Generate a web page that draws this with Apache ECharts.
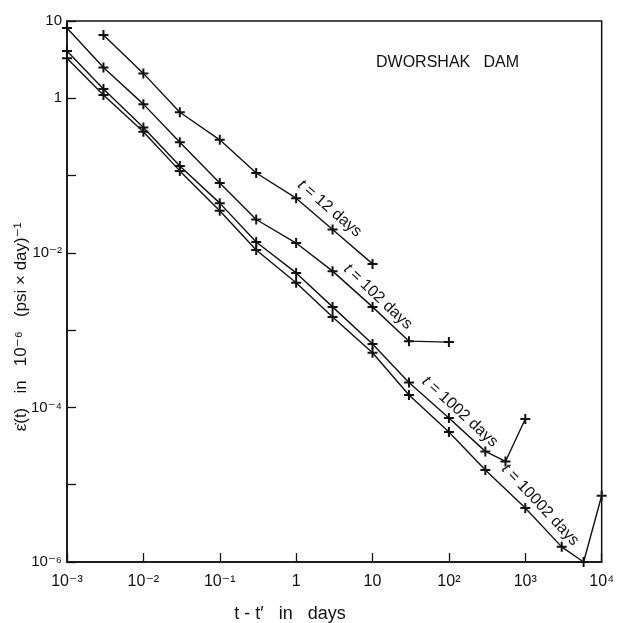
<!DOCTYPE html>
<html>
<head>
<meta charset="utf-8">
<script src="https://cdn.jsdelivr.net/npm/echarts@6/dist/echarts.min.js"></script>
<style>
  html, body { margin: 0; padding: 0; background: #fff; }
  #chart { width: 617px; height: 623px; }
</style>
</head>
<body>
<div id="chart"></div>
<script>
// t - t' in days, creep rate per curve
const x12 = [0.003, 0.01, 0.03, 0.1, 0.3, 1, 3, 10];
const y12 = [6.6, 2.1, 0.66, 0.29, 0.108, 0.051, 0.020, 0.0072];

const x102 = [0.001, 0.003, 0.01, 0.03, 0.1, 0.3, 1, 3, 10, 30, 100];
const y102 = [8.1, 2.5, 0.84, 0.27, 0.080, 0.027, 0.0134, 0.0058, 0.0020, 0.00072, 0.00070];

const x1002 = [0.001, 0.003, 0.01, 0.03, 0.1, 0.3, 1, 3, 10, 30, 100, 300, 550, 1000];
const y1002 = [4.1, 1.32, 0.42, 0.133, 0.044, 0.0138, 0.0055, 0.0020, 0.00066, 0.00021, 7.3e-5, 2.7e-5, 2.0e-5, 7.1e-5];

const x10002 = [0.001, 0.003, 0.01, 0.03, 0.1, 0.3, 1, 3, 10, 30, 100, 300, 1000, 3000, 5800, 10000];
const y10002 = [3.3, 1.1, 0.37, 0.115, 0.035, 0.0109, 0.0041, 0.00148, 0.00051, 0.000145, 4.8e-5, 1.55e-5, 5.0e-6, 1.57e-6, 1.0e-6, 7.2e-6];

const curveNames = ['t = 12 days', 't = 102 days', 't = 1002 days', 't = 10002 days'];

const FONT = '"Liberation Sans", "DejaVu Sans", sans-serif';
const SUP = { '-': '⁻', '0': '⁰', '1': '¹', '2': '²', '3': '³', '4': '⁴', '5': '⁵', '6': '⁶' };

function powLabel(v) {
  const e = Math.round(Math.log10(v));
  if (e === 0) return '1';
  if (e === 1) return '10';
  return '10' + String(e).split('').map(c => SUP[c]).join('');
}

const plus = 'path://M4,0h2v4h4v2h-4v4h-2v-4h-4v-2h4z';

function curve(name, xs, ys) {
  return {
    name: name,
    type: 'line',
    data: xs.map((x, i) => [x, ys[i]]),
    symbol: plus,
    symbolSize: 10,
    clip: false,
    itemStyle: { color: '#111' },
    lineStyle: { color: '#111', width: 1.4 },
    emphasis: { disabled: true }
  };
}

const chart = echarts.init(document.getElementById('chart'));

chart.setOption({
  animation: false,
  backgroundColor: '#fff',
  title: {
    text: 'DWORSHAK   DAM',
    left: 371,
    top: 50,
    textStyle: { fontFamily: FONT, fontSize: 16, fontWeight: 'normal', color: '#111' }
  },
  grid: {
    left: 67,
    right: 14,
    top: 21,
    bottom: 61,
    show: true,
    borderColor: '#111',
    borderWidth: 1.5
  },
  xAxis: {
    type: 'log',
    logBase: 10,
    min: 0.001,
    max: 10000,
    splitNumber: 7,
    axisLine: { lineStyle: { color: '#111', width: 1.5 } },
    axisTick: { inside: true, length: 9, lineStyle: { color: '#111', width: 1.3 } },
    minorTick: { show: false },
    splitLine: { show: false },
    axisLabel: {
      margin: 12,
      fontFamily: FONT,
      fontSize: 16,
      color: '#111',
      formatter: powLabel
    }
  },
  yAxis: {
    type: 'log',
    logBase: 10,
    min: 1e-6,
    max: 10,
    splitNumber: 7,
    axisLine: { lineStyle: { color: '#111', width: 1.5 } },
    axisTick: { inside: true, length: 9, lineStyle: { color: '#111', width: 1.3 } },
    splitLine: { show: false },
    axisLabel: {
      margin: 5,
      fontFamily: FONT,
      fontSize: 15,
      color: '#111',
      formatter: v => {
        const e = Math.round(Math.log10(v));
        return (e >= 0 || e % 2 === 0) ? powLabel(v) : '';
      }
    }
  },
  series: [
    curve(curveNames[0], x12, y12),
    curve(curveNames[1], x102, y102),
    curve(curveNames[2], x1002, y1002),
    curve(curveNames[3], x10002, y10002)
  ]
});

// curve labels, laid along the line next to a chosen point
const labelSpots = [
  { xs: x12, ys: y12, at: 6, along: -16, perp: 14 },
  { xs: x102, ys: y102, at: 8, along: -3, perp: 11 },
  { xs: x1002, ys: y1002, at: 10, along: 4, perp: 12 },
  { xs: x10002, ys: y10002, at: 12, along: 8, perp: 13 }
];

const graphics = labelSpots.map((s, k) => {
  const p0 = chart.convertToPixel({ gridIndex: 0 }, [s.xs[s.at], s.ys[s.at]]);
  const p1 = chart.convertToPixel({ gridIndex: 0 }, [s.xs[s.at + 1], s.ys[s.at + 1]]);
  const ang = Math.atan2(p1[1] - p0[1], p1[0] - p0[0]);
  const c = Math.cos(ang), sn = Math.sin(ang);
  return {
    type: 'text',
    x: p0[0] + c * s.along + sn * s.perp,
    y: p0[1] + sn * s.along - c * s.perp,
    rotation: -ang,
    style: {
      text: '{i|t}' + curveNames[k].slice(1),
      font: '16px ' + FONT,
      fill: '#111',
      align: 'center',
      verticalAlign: 'middle',
      rich: { i: { fontStyle: 'italic', fontSize: 16, fontFamily: FONT } }
    }
  };
});

graphics.push({
  type: 'text',
  x: 290,
  y: 614,
  style: {
    text: "t - t\u2032   in   days",
    font: '18px ' + FONT,
    fill: '#111',
    align: 'center',
    verticalAlign: 'middle'
  }
});

graphics.push({
  type: 'text',
  x: 21,
  y: 327,
  rotation: Math.PI / 2,
  style: {
    text: 'ε\u0307(t)   in   10⁻⁶   (psi × day)⁻¹',
    font: '17px ' + FONT,
    fill: '#111',
    align: 'center',
    verticalAlign: 'middle'
  }
});

chart.setOption({ graphic: graphics });
</script>
</body>
</html>
